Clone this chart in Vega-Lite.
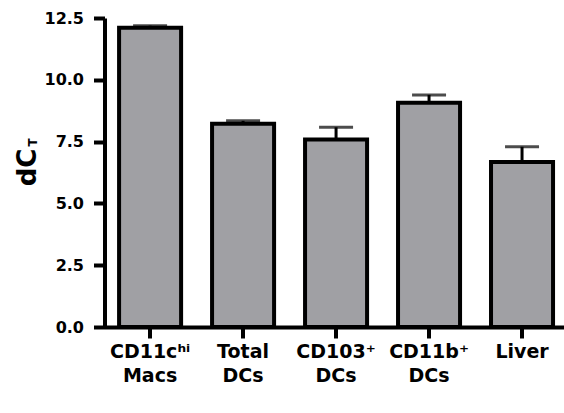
{
  "$schema": "https://vega.github.io/schema/vega-lite/v6.json",
  "width": 460,
  "height": 309,
  "autosize": {"type": "none"},
  "padding": {"left": 104.5, "top": 18, "right": 0, "bottom": 86},
  "background": "white",
  "config": {
    "view": {"stroke": null},
    "axis": {
      "labelFont": "DejaVu Sans",
      "labelFontWeight": "bold",
      "labelColor": "black",
      "titleFont": "DejaVu Sans",
      "titleFontWeight": "bold",
      "titleColor": "black",
      "domainColor": "black",
      "tickColor": "black",
      "grid": false
    }
  },
  "data": {
    "values": [
      {"cell": "CD11cʰⁱ|Macs", "value": 12.11, "upper": 12.19},
      {"cell": "Total|DCs", "value": 8.22, "upper": 8.34},
      {"cell": "CD103⁺|DCs", "value": 7.58, "upper": 8.08},
      {"cell": "CD11b⁺|DCs", "value": 9.07, "upper": 9.39},
      {"cell": "Liver", "value": 6.67, "upper": 7.29}
    ]
  },
  "encoding": {
    "x": {
      "field": "cell",
      "type": "nominal",
      "sort": null,
      "scale": {"paddingInner": 0.333, "paddingOuter": 0.14, "align": 0.56},
      "axis": {
        "title": null,
        "labelAngle": 0,
        "labelExpr": "split(datum.label, '|')",
        "labelFontSize": 19,
        "labelLineHeight": 24,
        "labelPadding": 4,
        "labelBaseline": "top",
        "tickSize": 11,
        "tickWidth": 4,
        "domainWidth": 4
      }
    }
  },
  "layer": [
    {
      "mark": {"type": "rule", "color": "black", "strokeWidth": 3},
      "encoding": {
        "y": {"field": "value", "type": "quantitative", "scale": {"domain": [0, 12.5], "nice": false}, "axis": null},
        "y2": {"field": "upper"}
      }
    },
    {
      "mark": {"type": "tick", "color": "black", "size": 34, "thickness": 3},
      "encoding": {
        "y": {
          "field": "upper",
          "type": "quantitative",
          "scale": {"domain": [0, 12.5], "nice": false},
          "axis": {
            "orient": "left",
            "title": "T",
            "titleFontSize": 12,
            "titleX": -68.5,
            "titleY": 124,
            "titleAngle": 270,
            "titleAlign": "center",
            "titleBaseline": "alphabetic",
            "domain": false,
            "ticks": false,
            "labels": false
          }
        }
      }
    },
    {
      "mark": {"type": "bar", "fill": "#a0a0a4", "stroke": "black", "strokeWidth": 4},
      "encoding": {
        "y": {
          "field": "value",
          "type": "quantitative",
          "scale": {"domain": [0, 12.5], "nice": false},
          "axis": {
            "orient": "left",
            "title": "dC",
            "titleFontSize": 26,
            "titleX": -69.5,
            "titleY": 149,
            "titleAngle": 270,
            "titleAlign": "center",
            "titleBaseline": "alphabetic",
            "values": [0, 2.5, 5, 7.5, 10, 12.5],
            "format": ".1f",
            "labelFontSize": 16,
            "labelPadding": 10,
            "tickSize": 11,
            "tickWidth": 4,
            "domainWidth": 4
          }
        }
      }
    }
  ],
  "resolve": {"axis": {"y": "independent"}}
}
